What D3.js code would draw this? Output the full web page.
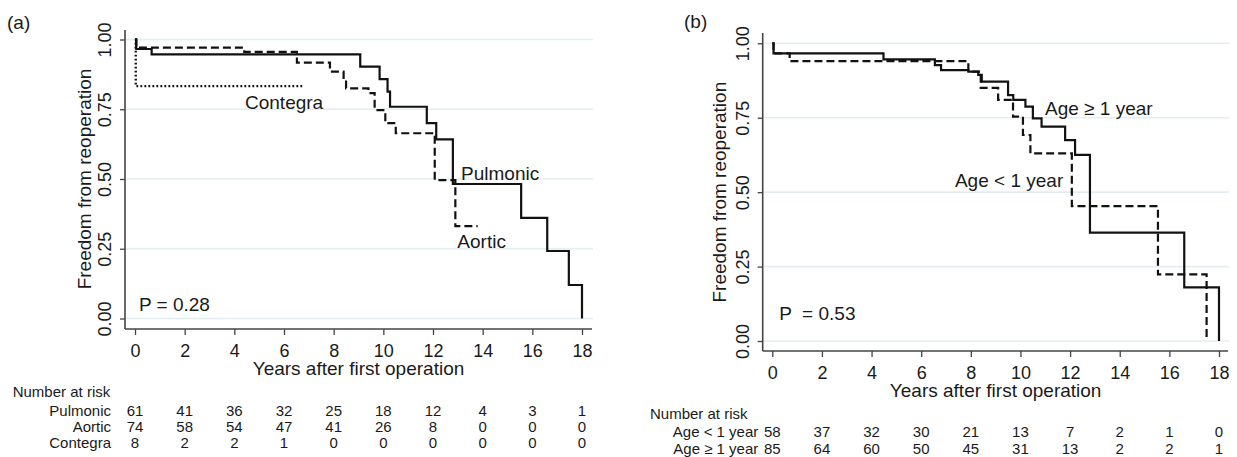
<!DOCTYPE html>
<html>
<head>
<meta charset="utf-8">
<script src="https://cdn.jsdelivr.net/npm/d3@7"></script>
<style>
  body { margin: 0; background: #fff; }
  svg { display: block; font-family: "Liberation Sans", Arial, sans-serif; }
  .pre { white-space: pre; }
</style>
</head>
<body>
<div id="chart"></div>
<script>
// ---- data ----
var years = [0, 2, 4, 6, 8, 10, 12, 14, 16, 18];
var yTicks = [0, 0.25, 0.5, 0.75, 1];

// (a) valve type
var pulmonicTime = [0, 0.05, 0.67, 9.07, 9.85, 10.17, 10.27, 11.75, 12.13, 12.8, 15.55, 16.6, 17.47, 18];
var pulmonicSurv = [1, 0.966, 0.947, 0.903, 0.858, 0.813, 0.759, 0.70, 0.642, 0.482, 0.361, 0.242, 0.12, 0];
var aorticTime = [0, 0.05, 4.4, 6.52, 7.85, 8.4, 8.5, 9.4, 9.65, 10.08, 10.5, 12.07, 12.9, 13.8];
var aorticSurv = [1, 0.971, 0.956, 0.917, 0.885, 0.855, 0.825, 0.808, 0.747, 0.70, 0.664, 0.496, 0.331, 0.331];
var contegraTime = [0, 0.03, 6.8];
var contegraSurv = [1, 0.833, 0.833];

var riskA = ["Pulmonic", "Aortic", "Contegra"];
var pulmonicRisk = [61, 41, 36, 32, 25, 18, 12, 4, 3, 1];
var aorticRisk = [74, 58, 54, 47, 41, 26, 8, 0, 0, 0];
var contegraRisk = [8, 2, 2, 1, 0, 0, 0, 0, 0, 0];

// (b) age at first operation
var youngerTime = [0, 0.05, 0.7, 7.9, 8.4, 9.1, 9.7, 10.1, 10.4, 12.07, 15.54, 17.5];
var youngerSurv = [1, 0.966, 0.94, 0.905, 0.85, 0.81, 0.754, 0.692, 0.63, 0.453, 0.224, 0];
var olderTime = [0, 0.05, 4.48, 6.55, 6.8, 7.9, 8.3, 8.44, 9.5, 9.71, 10.2, 10.5, 10.85, 11.8, 12.2, 12.8, 16.6, 18];
var olderSurv = [1, 0.966, 0.946, 0.927, 0.91, 0.905, 0.894, 0.871, 0.826, 0.81, 0.787, 0.748, 0.72, 0.675, 0.625, 0.364, 0.18, 0];

var riskB = ["Age < 1 year", "Age \u2265 1 year"];
var youngerRisk = [58, 37, 32, 30, 21, 13, 7, 2, 1, 0];
var olderRisk = [85, 64, 60, 50, 45, 31, 13, 2, 2, 1];

function zip(t, s) {
  return t.map(function(d, i) { return [d, s[i]]; });
}

var svg = d3.select("#chart").append("svg")
  .attr("width", 1237)
  .attr("height", 457);

var ink = "#1a1a1a";

function drawPanel(o) {
  var g = svg.append("g");
  var x = d3.scaleLinear().domain([0, 18]).range(o.xr);
  var y = d3.scaleLinear().domain([0, 1]).range(o.yr);

  // grid
  g.selectAll(".grid").data(yTicks).enter().append("line")
    .attr("x1", o.axisX + 1).attr("x2", o.gridRight)
    .attr("y1", function(d) { return y(d); })
    .attr("y2", function(d) { return y(d); })
    .attr("stroke", "#e4eef1")
    .attr("stroke-width", 1.6);

  // y axis
  var ya = g.append("g")
    .attr("transform", "translate(" + o.axisX + ",0)")
    .call(d3.axisLeft(y).tickValues(yTicks).tickFormat(d3.format(".2f")).tickSize(5).tickSizeOuter(0));
  ya.select(".domain").remove();
  ya.selectAll(".tick line").attr("stroke", "#444").attr("stroke-width", 1.3);
  ya.selectAll(".tick text")
    .attr("x", 0).attr("dy", 0)
    .attr("text-anchor", "middle")
    .attr("transform", "translate(-14,0) rotate(-90)")
    .attr("font-size", 18)
    .attr("font-family", "Liberation Sans, Arial, sans-serif")
    .attr("fill", ink);

  // x axis
  var xa = g.append("g")
    .attr("transform", "translate(0," + o.axisY + ")")
    .call(d3.axisBottom(x).tickValues(years).tickSize(6).tickSizeOuter(0));
  xa.select(".domain").remove();
  xa.selectAll(".tick line").attr("stroke", "#444").attr("stroke-width", 1.3);
  xa.selectAll(".tick text")
    .attr("y", 27.5).attr("dy", 0)
    .attr("font-size", 18)
    .attr("font-family", "Liberation Sans, Arial, sans-serif")
    .attr("fill", ink);

  // axis lines
  g.append("line")
    .attr("x1", o.axisX).attr("x2", o.axisX)
    .attr("y1", o.axisTop).attr("y2", o.axisY)
    .attr("stroke", "#444").attr("stroke-width", 1.6);
  g.append("line")
    .attr("x1", o.axisX).attr("x2", o.axisRight)
    .attr("y1", o.axisY).attr("y2", o.axisY)
    .attr("stroke", "#444").attr("stroke-width", 1.6);

  // titles
  g.append("text")
    .attr("x", (o.xr[0] + o.xr[1]) / 2)
    .attr("y", o.axisY + 46)
    .attr("text-anchor", "middle")
    .attr("font-size", 19)
    .attr("fill", ink)
    .text("Years after first operation");
  g.append("text")
    .attr("transform", "translate(" + (o.axisX - o.ytitleOff) + "," + ((o.yr[0] + o.yr[1]) / 2) + ") rotate(-90)")
    .attr("text-anchor", "middle")
    .attr("font-size", 19)
    .attr("fill", ink)
    .text("Freedom from reoperation");
  g.append("text")
    .attr("x", o.tag[0]).attr("y", o.tag[1])
    .attr("font-size", 19)
    .attr("fill", ink)
    .text(o.tagText);

  // curves
  var line = d3.line()
    .x(function(d) { return x(d[0]); })
    .y(function(d) { return y(d[1]); })
    .curve(d3.curveStepAfter);

  o.curves.forEach(function(c) {
    g.append("path")
      .datum(c.pts)
      .attr("d", line)
      .attr("fill", "none")
      .attr("stroke", "#111")
      .attr("stroke-width", c.w || 2.2)
      .attr("stroke-dasharray", c.dash || null);
  });

  // labels on the plot
  o.labels.forEach(function(l) {
    g.append("text")
      .attr("class", "pre")
      .attr("x", x(l.t)).attr("y", y(l.v))
      .attr("font-size", 19)
      .attr("fill", ink)
      .text(l.text);
  });

  // number at risk
  g.append("text")
    .attr("x", o.riskLeft).attr("y", o.riskY[0])
    .attr("font-size", 15)
    .attr("fill", ink)
    .text("Number at risk");
  o.risk.forEach(function(r, i) {
    var ry = o.riskY[i + 1];
    g.append("text")
      .attr("x", o.riskLabelRight).attr("y", ry)
      .attr("text-anchor", "end")
      .attr("font-size", 15)
      .attr("fill", ink)
      .text(r.name);
    g.selectAll(".n" + i).data(r.values).enter().append("text")
      .attr("x", function(d, j) { return x(years[j]); })
      .attr("y", ry)
      .attr("text-anchor", "middle")
      .attr("font-size", 15)
      .attr("fill", ink)
      .text(function(d) { return d; });
  });
}

drawPanel({
  xr: [135, 582], yr: [318.5, 39.5],
  axisX: 125, axisY: 329, axisTop: 30, axisRight: 592, gridRight: 593,
  ytitleOff: 34,
  tag: [7, 29], tagText: "(a)",
  curves: [
    { pts: zip(pulmonicTime, pulmonicSurv) },
    { pts: zip(aorticTime, aorticSurv), dash: "8,4" },
    { pts: zip(contegraTime, contegraSurv), dash: "1.8,2.2", w: 2.4 }
  ],
  labels: [
    { text: "Contegra", t: 4.43, v: 0.751 },
    { text: "Pulmonic", t: 13.13, v: 0.498 },
    { text: "Aortic", t: 12.98, v: 0.253 },
    { text: "P = 0.28", t: 0.16, v: 0.027 }
  ],
  riskLeft: 12.7, riskLabelRight: 111,
  riskY: [397, 416.2, 431.5, 448],
  risk: [
    { name: riskA[0], values: pulmonicRisk },
    { name: riskA[1], values: aorticRisk },
    { name: riskA[2], values: contegraRisk }
  ]
});

drawPanel({
  xr: [772.3, 1219], yr: [341, 43.3],
  axisX: 762.7, axisY: 351, axisTop: 33, axisRight: 1228, gridRight: 1229,
  ytitleOff: 37.2,
  tag: [684, 28], tagText: "(b)",
  curves: [
    { pts: zip(olderTime, olderSurv) },
    { pts: zip(youngerTime, youngerSurv), dash: "8,4" }
  ],
  labels: [
    { text: "Age \u2265 1 year", t: 10.99, v: 0.759 },
    { text: "Age < 1 year", t: 7.36, v: 0.517 },
    { text: "P  = 0.53", t: 0.28, v: 0.072 }
  ],
  riskLeft: 650, riskLabelRight: 758.3,
  riskY: [418.8, 437.2, 453.8],
  risk: [
    { name: riskB[0], values: youngerRisk },
    { name: riskB[1], values: olderRisk }
  ]
});
</script>
</body>
</html>
